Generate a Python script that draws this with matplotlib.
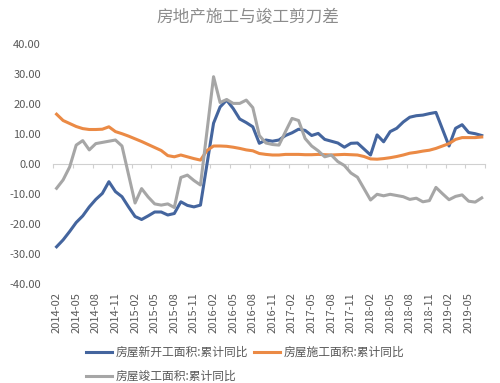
import numpy as np
import pandas as pd
from matplotlib import pyplot as plt

plt.rcParams['font.family'] = ['Noto Sans CJK SC', 'DejaVu Sans']

# monthly categories 2014-02 .. 2019-07
months = pd.period_range('2014-02', '2019-07', freq='M').strftime('%Y-%m').tolist()

# 房屋新开工面积:累计同比
new_start = [-27.6, -25.3, -22.5, -19.5, -17.3, -14.3, -11.8, -9.8, -5.9, -9.2,
             -10.9, -14.3, -17.5, -18.5, -17.3, -16.0, -16.0, -17.0, -16.5, -12.6,
             -13.8, -14.3, -13.7, 0.0, 13.6, 19.0, 21.3, 18.5, 15.0, 13.8,
             12.4, 6.9, 8.0, 7.6, 8.0, 9.5, 10.4, 11.6, 11.2, 9.5,
             10.2, 8.2, 7.6, 7.0, 5.6, 6.9, 7.0, 5.0, 3.0, 9.7,
             7.4, 10.8, 11.9, 14.0, 15.6, 16.1, 16.3, 16.8, 17.2, 11.6,
             6.0, 11.9, 13.1, 10.5, 10.1, 9.5]

# 房屋施工面积:累计同比
under_constr = [16.6, 14.5, 13.5, 12.5, 11.8, 11.5, 11.5, 11.6, 12.4, 10.8,
                10.1, 9.3, 8.4, 7.5, 6.5, 5.5, 4.5, 2.8, 2.4, 3.0,
                2.4, 1.8, 1.3, 4.5, 6.0, 6.0, 5.9, 5.6, 5.2, 4.7,
                4.4, 3.5, 3.2, 3.0, 3.0, 3.2, 3.2, 3.2, 3.1, 3.1,
                3.2, 3.1, 3.0, 3.1, 3.2, 3.1, 3.0, 2.5, 1.7, 1.6,
                1.8, 2.1, 2.5, 3.0, 3.6, 3.9, 4.3, 4.6, 5.2, 6.0,
                6.8, 8.2, 8.8, 8.8, 8.8, 9.0]

# 房屋竣工面积:累计同比
completed = [-8.1, -5.3, -1.0, 6.3, 7.8, 4.7, 6.8, 7.2, 7.6, 8.0,
             6.0, -3.5, -13.0, -8.2, -11.0, -13.3, -13.7, -13.3, -14.5, -4.5,
             -3.7, -5.5, -7.0, 11.0, 29.1, 20.5, 21.5, 20.2, 20.2, 21.3,
             18.8, 9.5, 7.0, 6.5, 6.3, 10.8, 15.2, 14.5, 8.5, 6.0,
             4.4, 2.4, 3.0, 0.8, -0.5, -3.0, -4.4, -8.2, -12.0, -10.1,
             -10.6, -10.1, -10.5, -10.9, -11.8, -11.4, -12.6, -12.2, -7.8, -9.9,
             -11.9, -10.8, -10.3, -12.4, -12.7, -11.3]

x = np.arange(len(months))
txt = '#595959'

fig = plt.figure(figsize=(5.0, 3.83), dpi=100)
ax = fig.add_axes([0.1066, 0.2585, 0.8634, 0.6266])

l1, = ax.plot(x, new_start, color='#44659e', lw=2.2, label='房屋新开工面积:累计同比')
l2, = ax.plot(x, under_constr, color='#eb8a45', lw=2.2, label='房屋施工面积:累计同比')
l3, = ax.plot(x, completed, color='#a6a6a6', lw=2.2, label='房屋竣工面积:累计同比')

ax.set_xlim(-0.5, len(months) - 0.5)
ax.set_ylim(-40, 40)
ax.set_yticks(np.arange(-40, 41, 10))
ax.set_yticklabels(['%.2f' % v for v in np.arange(-40, 41, 10)])
ax.set_xticks(x[::3])
ax.set_xticklabels(months[::3], rotation=90)
ax.tick_params(axis='both', length=0, labelsize=8, colors=txt)
ax.tick_params(axis='y', pad=9)
ax.tick_params(axis='x', pad=6)
for s in ax.spines.values():
    s.set_visible(False)

# category axis crossing at zero, ticks between categories
sec = ax.secondary_xaxis(0.5)
sec.set_alignment('bottom')
sec.set_xticks(np.arange(-0.5, len(months), 3))
sec.tick_params(length=3, color='#d0d0d0', labelbottom=False, labeltop=False)
for s in sec.spines.values():
    s.set_color('#d0d0d0')
    s.set_linewidth(0.8)

fig.text(0.496, 0.955, '房地产施工与竣工剪刀差', ha='center', va='center',
         fontsize=12, color='#8c8c8c', fontweight='light')

fig.legend(handles=[l1, l3, l2], loc='lower center', bbox_to_anchor=(0.49, -0.027),
           ncol=2, frameon=False, fontsize=8.5, handlelength=2.2, handletextpad=0.3,
           columnspacing=0.5, labelspacing=0.9, labelcolor=txt)

fig.savefig('out.png', dpi=100)
